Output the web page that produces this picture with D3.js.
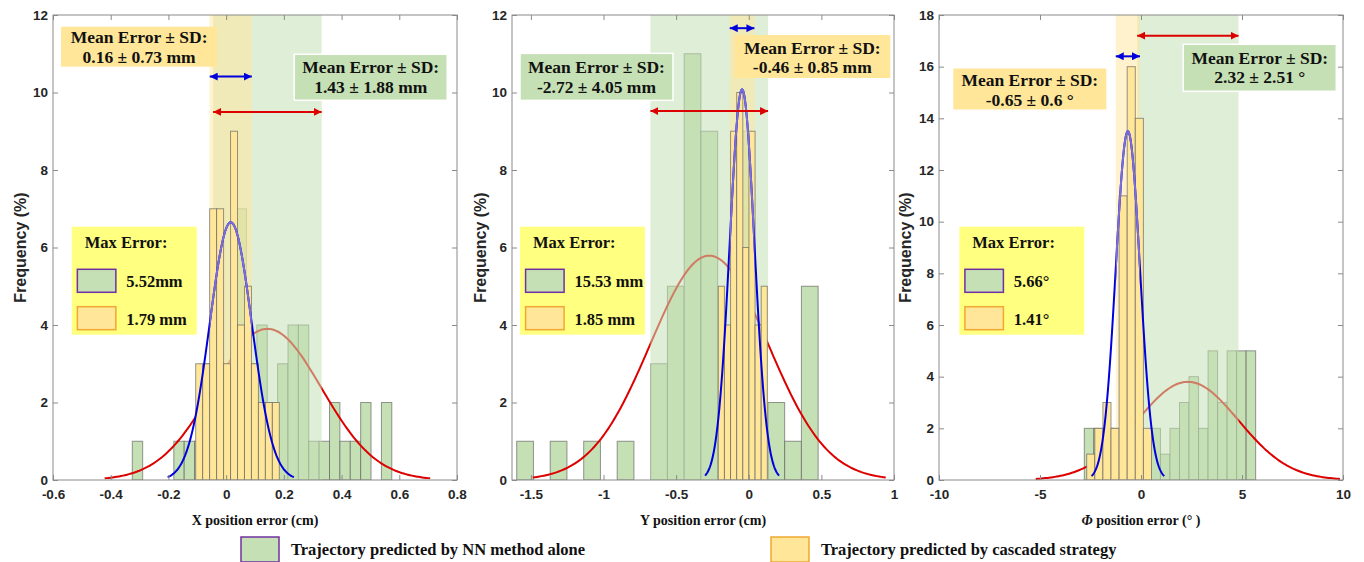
<!DOCTYPE html>
<html>

<head>
    <meta charset="utf-8">
    <title>Position error histograms</title>
    <script type="text/javascript" src="https://d3js.org/d3.v7.min.js"></script>

    <style>
        body {
            margin: 0;
            background: #fff;
        }

        svg {
            display: block;
        }

        .tick text {
            font-family: "Liberation Sans", Arial, sans-serif;
            font-size: 13.5px;
            font-weight: bold;
            fill: #262626;
        }

        .serif {
            font-family: "Liberation Serif", "Times New Roman", serif;
            font-weight: bold;
            fill: #111;
        }
    </style>
</head>

<body>
<script type="text/javascript">
    // ---- data ----
    // bins are [first edge, bin width] in axis units, counts per bin
    // fits are [mean, sd, peak height] of the fitted normal curve

    // X position error (cm)
    var xNNCounts = [1, 0, 0, 0, 1, 1, 1, 3, 3, 2, 7, 3, 4, 2, 3, 4, 4, 1, 1, 2, 1, 1, 2, 0, 2];
    var xNNBins = [-0.3252, 0.03597];
    var xNNFit = [0.143, 0.188, 3.9];
    var xCasCounts = [3, 3, 7, 7, 3, 9, 4, 5, 3, 2, 2, 2];
    var xCasBins = [-0.1055, 0.02415];
    var xCasFit = [0.016, 0.073, 6.65];

    // Y position error (cm)
    var yNNCounts = [1, 0, 1, 0, 1, 0, 1, 0, 3, 5, 11, 9, 1, 9, 0, 2, 1, 5];
    var yNNBins = [-1.5976, 0.1153];
    var yNNFit = [-0.272, 0.405, 5.79];
    var yCasCounts = [5, 4, 9, 10, 6, 9, 4, 5];
    var yCasBins = [-0.2097, 0.0422];
    var yCasFit = [-0.046, 0.085, 10.08];

    // Phi position error (deg)
    var pNNCounts = [2, 2, 2, 2, 2, 2, 1, 2, 1, 2, 3, 4, 2, 5, 3, 5, 5, 5];
    var pNNBins = [-2.807, 0.4713];
    var pNNFit = [2.32, 2.51, 3.8];
    var pCasCounts = [1, 2, 3, 2, 11, 16, 14, 2];
    var pCasBins = [-2.688, 0.401];
    var pCasFit = [-0.65, 0.6, 13.5];

    // tick labels
    var xTicks = [-0.6, -0.4, -0.2, 0, 0.2, 0.4, 0.6, 0.8];
    var yTicks = [-1.5, -1, -0.5, 0, 0.5, 1];
    var pTicks = [-10, -5, 0, 5, 10];
    var freqTicks12 = [0, 2, 4, 6, 8, 10, 12];
    var freqTicks18 = [0, 2, 4, 6, 8, 10, 12, 14, 16, 18];

    // texts
    var xMeanText = ["1.43 \u00b1 1.88 mm", "0.16 \u00b1 0.73 mm"];
    var yMeanText = ["-2.72 \u00b1 4.05 mm", "-0.46 \u00b1 0.85 mm"];
    var pMeanText = ["2.32 \u00b1 2.51 \u00b0", "-0.65 \u00b1 0.6 \u00b0"];
    var xMaxText = ["5.52mm", "1.79 mm"];
    var yMaxText = ["15.53 mm", "1.85 mm"];
    var pMaxText = ["5.66\u00b0", "1.41\u00b0"];
    var legendText = ["Trajectory predicted by NN method alone", "Trajectory predicted by cascaded strategy"];

    // ---- styles ----
    var W = 1364, H = 562;
    var TOP = 15, BOTTOM = 480;
    var GREEN = "#C5E0B4", YELLOW = "#FFE699", MAXFILL = "#FFFF80";
    var PURPLE = "#7030A0", ORANGE = "#F0A830";
    var RED = "#DD0000", BLUE = "#0000DD", LAVENDER = "#7C6ED8";

    // layout of the three panels (annotation boxes placed in data units)
    var panels = [{
        left: 53, right: 457, xDomain: [-0.6, 0.8], xTicks: xTicks,
        yMax: 12, yTicks: freqTicks12, ylabelX: 20,
        xlabel: [["X position error (cm)", false]],
        nn: { counts: xNNCounts, bins: xNNBins, fit: xNNFit },
        cas: { counts: xCasCounts, bins: xCasBins, fit: xCasFit },
        arrowNN: 9.5, arrowCas: 10.41,
        nnBox: { x: 0.236, y: 10.986, w: 153, h: 46, b1: 19, b2: 39, text: xMeanText[0] },
        casBox: { x: -0.572, y: 11.698, w: 156, h: 40, b1: 16.6, b2: 36, text: xMeanText[1] },
        maxBox: { x: -0.535, y: 6.537, text: xMaxText }
    }, {
        left: 512, right: 894, xDomain: [-1.63, 1], xTicks: yTicks,
        yMax: 12, yTicks: freqTicks12, ylabelX: 480,
        xlabel: [["Y position error (cm)", false]],
        nn: { counts: yNNCounts, bins: yNNBins, fit: yNNFit },
        cas: { counts: yCasCounts, bins: yCasBins, fit: yCasFit },
        arrowNN: 9.52, arrowCas: 11.66,
        nnBox: { x: -1.575, y: 11.01, w: 153, h: 47, b1: 20, b2: 40, text: yMeanText[0] },
        casBox: { x: -0.0995, y: 11.484, w: 156, h: 43, b1: 19, b2: 38.3, text: yMeanText[1] },
        maxBox: { x: -1.575, y: 6.537, text: yMaxText }
    }, {
        left: 939, right: 1343, xDomain: [-10, 10], xTicks: pTicks,
        yMax: 18, yTicks: freqTicks18, ylabelX: 905,
        xlabel: [["\u03a6", true], [" position error (\u00b0 )", false]],
        nn: { counts: pNNCounts, bins: pNNBins, fit: pNNFit },
        cas: { counts: pCasCounts, bins: pCasBins, fit: pCasFit },
        arrowNN: 17.2, arrowCas: 16.4,
        nnBox: { x: 2.094, y: 16.866, w: 153, h: 47, b1: 19.7, b2: 39, text: pMeanText[0] },
        casBox: { x: -9.292, y: 15.929, w: 153, h: 41, b1: 17, b2: 37, text: pMeanText[1] },
        maxBox: { x: -8.995, y: 9.805, text: pMaxText }
    }];

    var svg = d3.select("body")
        .append("svg")
        .attr("width", W)
        .attr("height", H);

    var defs = svg.append("defs");

    // arrow heads for the mean +- sd spans
    [["red", RED], ["blue", BLUE]].forEach(function(m) {
        defs.append("marker")
            .attr("id", "head-" + m[0])
            .attr("viewBox", "0 0 10 10")
            .attr("refX", 10)
            .attr("refY", 5)
            .attr("markerUnits", "userSpaceOnUse")
            .attr("markerWidth", 8)
            .attr("markerHeight", 8)
            .attr("orient", "auto-start-reverse")
            .append("path")
            .attr("d", "M0,0 L10,5 L0,10 z")
            .attr("fill", m[1]);
    });

    function drawBars(g, d, sx, sy, fill) {
        var rows = d.counts.map(function(c, i) {
            return { c: c, x0: d.bins[0] + i * d.bins[1], x1: d.bins[0] + (i + 1) * d.bins[1] };
        }).filter(function(r) { return r.c > 0; });

        g.append("g").selectAll("rect")
            .data(rows)
            .enter()
            .append("rect")
            .attr("x", function(r) { return sx(r.x0); })
            .attr("width", function(r) { return sx(r.x1) - sx(r.x0); })
            .attr("y", function(r) { return sy(r.c); })
            .attr("height", function(r) { return sy(0) - sy(r.c); })
            .attr("fill", fill)
            .attr("stroke", "#5f5f5f")
            .attr("stroke-opacity", 0.65)
            .attr("stroke-width", 1);
    }

    // normal curve from the fit, drawn over mean +- 3 sd
    function fitCurve(fit) {
        var m = fit[0], s = fit[1], peak = fit[2];
        return d3.range(0, 161).map(function(k) {
            var v = m - 3 * s + k * 6 * s / 160;
            var z = (v - m) / s;
            return [v, peak * Math.exp(-0.5 * z * z)];
        });
    }

    function bandRect(g, fit, sx, sy, fill, opacity) {
        g.append("rect")
            .attr("x", sx(fit[0] - fit[1]))
            .attr("width", sx(fit[0] + fit[1]) - sx(fit[0] - fit[1]))
            .attr("y", TOP)
            .attr("height", BOTTOM - TOP)
            .attr("fill", fill)
            .attr("fill-opacity", opacity);
    }

    panels.forEach(function(p, pi) {
        var sx = d3.scaleLinear().domain(p.xDomain).range([p.left, p.right]);
        var sy = d3.scaleLinear().domain([0, p.yMax]).range([BOTTOM, TOP]);
        var line = d3.line()
            .x(function(d) { return sx(d[0]); })
            .y(function(d) { return sy(d[1]); });

        defs.append("clipPath").attr("id", "plot" + pi)
            .append("rect")
            .attr("x", p.left).attr("y", TOP)
            .attr("width", p.right - p.left).attr("height", BOTTOM - TOP);
        defs.append("clipPath").attr("id", "casband" + pi)
            .append("rect")
            .attr("x", sx(p.cas.fit[0] - p.cas.fit[1]))
            .attr("width", sx(p.cas.fit[0] + p.cas.fit[1]) - sx(p.cas.fit[0] - p.cas.fit[1]))
            .attr("y", TOP).attr("height", BOTTOM - TOP);

        var plot = svg.append("g").attr("clip-path", "url(#plot" + pi + ")");

        // NN histogram and its fit
        drawBars(plot, p.nn, sx, sy, GREEN);
        plot.append("path")
            .attr("d", line(fitCurve(p.nn.fit)))
            .attr("fill", "none")
            .attr("stroke", RED)
            .attr("stroke-width", 2);

        // mean +- sd shading
        bandRect(plot, p.nn.fit, sx, sy, GREEN, 0.55);
        bandRect(plot, p.cas.fit, sx, sy, YELLOW, 0.5);

        // cascaded histogram and its fit
        drawBars(plot, p.cas, sx, sy, YELLOW);
        var casPath = line(fitCurve(p.cas.fit));
        plot.append("path")
            .attr("d", casPath)
            .attr("fill", "none")
            .attr("stroke", BLUE)
            .attr("stroke-width", 2);
        plot.append("g").attr("clip-path", "url(#casband" + pi + ")")
            .append("path")
            .attr("d", casPath)
            .attr("fill", "none")
            .attr("stroke", LAVENDER)
            .attr("stroke-width", 2);

        // axes box with inward ticks on all four sides
        var axes = svg.append("g");
        axes.append("rect")
            .attr("x", p.left).attr("y", TOP)
            .attr("width", p.right - p.left).attr("height", BOTTOM - TOP)
            .attr("fill", "none")
            .attr("stroke", "#8a8a8a")
            .attr("stroke-width", 1);

        var fmt = function(d) { return String(d); };
        var axB = axes.append("g").attr("transform", "translate(0," + BOTTOM + ")")
            .call(d3.axisBottom(sx).tickValues(p.xTicks).tickFormat(fmt).tickSizeInner(-5).tickSizeOuter(0).tickPadding(9));
        var axT = axes.append("g").attr("transform", "translate(0," + TOP + ")")
            .call(d3.axisTop(sx).tickValues(p.xTicks).tickFormat("").tickSizeInner(-5).tickSizeOuter(0));
        var axL = axes.append("g").attr("transform", "translate(" + p.left + ",0)")
            .call(d3.axisLeft(sy).tickValues(p.yTicks).tickFormat(fmt).tickSizeInner(-5).tickSizeOuter(0).tickPadding(5));
        var axR = axes.append("g").attr("transform", "translate(" + p.right + ",0)")
            .call(d3.axisRight(sy).tickValues(p.yTicks).tickFormat("").tickSizeInner(-5).tickSizeOuter(0));
        [axB, axT, axL, axR].forEach(function(a) {
            a.select(".domain").remove();
            a.selectAll(".tick line").attr("stroke", "#8a8a8a");
            a.attr("font-family", null).attr("font-size", null);
        });

        // axis titles
        svg.append("text")
            .attr("transform", "translate(" + p.ylabelX + "," + (TOP + BOTTOM) / 2 + ") rotate(-90)")
            .attr("text-anchor", "middle")
            .attr("dy", "0.35em")
            .style("font-family", "'Liberation Sans', Arial, sans-serif")
            .style("font-size", "16px")
            .style("font-weight", "bold")
            .style("fill", "#262626")
            .text("Frequency (%)");

        var xl = svg.append("text")
            .attr("class", "serif")
            .attr("x", (p.left + p.right) / 2)
            .attr("y", 525)
            .attr("text-anchor", "middle")
            .style("font-size", "14px");
        p.xlabel.forEach(function(part) {
            xl.append("tspan").style("font-style", part[1] ? "italic" : "normal").text(part[0]);
        });

        // double arrows spanning mean +- sd
        [[p.nn.fit, p.arrowNN, "red", RED], [p.cas.fit, p.arrowCas, "blue", BLUE]].forEach(function(a) {
            svg.append("line")
                .attr("x1", sx(a[0][0] - a[0][1]))
                .attr("x2", sx(a[0][0] + a[0][1]))
                .attr("y1", sy(a[1]))
                .attr("y2", sy(a[1]))
                .attr("stroke", a[3])
                .attr("stroke-width", 2)
                .attr("marker-start", "url(#head-" + a[2] + ")")
                .attr("marker-end", "url(#head-" + a[2] + ")");
        });

        // mean error boxes
        [[p.nnBox, GREEN, "#fff"], [p.casBox, YELLOW, "none"]].forEach(function(b) {
            var box = b[0];
            var bx = sx(box.x), by = sy(box.y);
            svg.append("rect")
                .attr("x", bx).attr("y", by)
                .attr("width", box.w).attr("height", box.h)
                .attr("fill", b[1])
                .attr("stroke", b[2])
                .attr("stroke-width", 1.5);
            var t = svg.append("text")
                .attr("class", "serif")
                .attr("text-anchor", "middle")
                .style("font-size", "17.5px");
            t.append("tspan").attr("x", bx + box.w / 2).attr("y", by + box.b1).text("Mean Error \u00b1 SD:");
            t.append("tspan").attr("x", bx + box.w / 2).attr("y", by + box.b2).text(box.text);
        });

        // max error box
        var mx = sx(p.maxBox.x), my = sy(p.maxBox.y);
        svg.append("rect")
            .attr("x", mx).attr("y", my)
            .attr("width", 125).attr("height", 108)
            .attr("fill", MAXFILL);
        svg.append("text")
            .attr("class", "serif")
            .attr("x", mx + 13).attr("y", my + 21.5)
            .style("font-size", "16.5px")
            .text("Max Error:");
        [[GREEN, PURPLE, 42.6, 60.6], [YELLOW, ORANGE, 80, 98.3]].forEach(function(s, i) {
            svg.append("rect")
                .attr("x", mx + 5.6).attr("y", my + s[2])
                .attr("width", 38.5).attr("height", 23)
                .attr("fill", s[0])
                .attr("stroke", s[1])
                .attr("stroke-width", 1.5);
            svg.append("text")
                .attr("class", "serif")
                .attr("x", mx + 54.5).attr("y", my + s[3])
                .style("font-size", "16.5px")
                .text(p.maxBox.text[i]);
        });
    });

    // bottom legend
    var legend = svg.append("g");
    [[241, GREEN, PURPLE, legendText[0]], [771, YELLOW, ORANGE, legendText[1]]].forEach(function(l) {
        legend.append("rect")
            .attr("x", l[0]).attr("y", 537)
            .attr("width", 38).attr("height", 25)
            .attr("fill", l[1])
            .attr("stroke", l[2])
            .attr("stroke-width", 1.5);
        legend.append("text")
            .attr("class", "serif")
            .attr("x", l[0] + 50).attr("y", 555)
            .style("font-size", "16.5px")
            .text(l[3]);
    });
</script>
</body>

</html>
